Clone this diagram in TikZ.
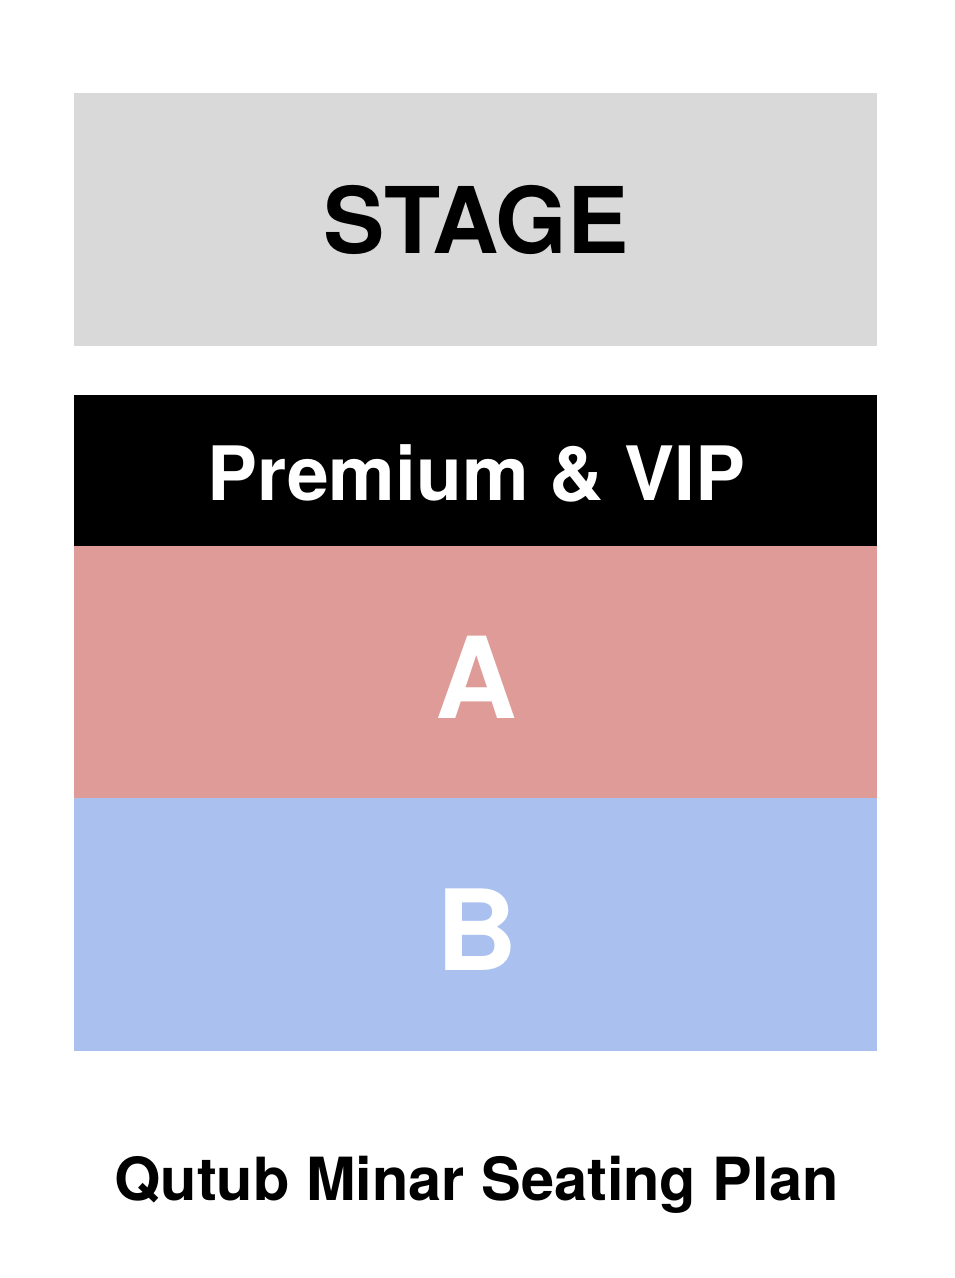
\documentclass[tikz,border=0pt]{standalone}
\usepackage{fontspec}
\setmainfont{TeX Gyre Heros}
\definecolor{stagegray}{HTML}{D9D9D9}
\definecolor{zonea}{HTML}{DF9B98}
\definecolor{zoneb}{HTML}{AAC1EF}
\begin{document}
\begin{tikzpicture}[x=1pt,y=-1pt,
  zone/.style={rectangle,draw=none,inner sep=0pt,minimum width=803pt,anchor=north west},
  lbl/.style={inner sep=0pt,anchor=base},
]
\useasboundingbox (0,0) rectangle (954,1278);
\fill[white] (0,0) rectangle (954,1278);
\node[zone,fill=stagegray,minimum height=253pt] (stage) at (74,93) {};
\node[lbl,font=\bfseries\fontsize{92}{92}\selectfont] (stagetxt) at (476,253) {STAGE};
\node[zone,fill=black,minimum height=152pt] (vip) at (74,395) {};
\node[lbl,font=\bfseries\fontsize{75}{75}\selectfont,text=white] (viptxt) at (476.5,500) {Premium \& VIP};
\node[zone,fill=zonea,minimum height=253pt] (a) at (74,546) {};
\node[lbl,font=\bfseries\fontsize{113}{113}\selectfont,text=white] (atxt) at (476,718) {A};
\node[zone,fill=zoneb,minimum height=253pt] (b) at (74,798) {};
\node[lbl,font=\bfseries\fontsize{112}{112}\selectfont,text=white] (btxt) at (477,970) {B};
\node[lbl,font=\bfseries\fontsize{59.5}{59.5}\selectfont] (title) at (476.5,1200) {Qutub Minar Seating Plan};
\end{tikzpicture}
\end{document}
